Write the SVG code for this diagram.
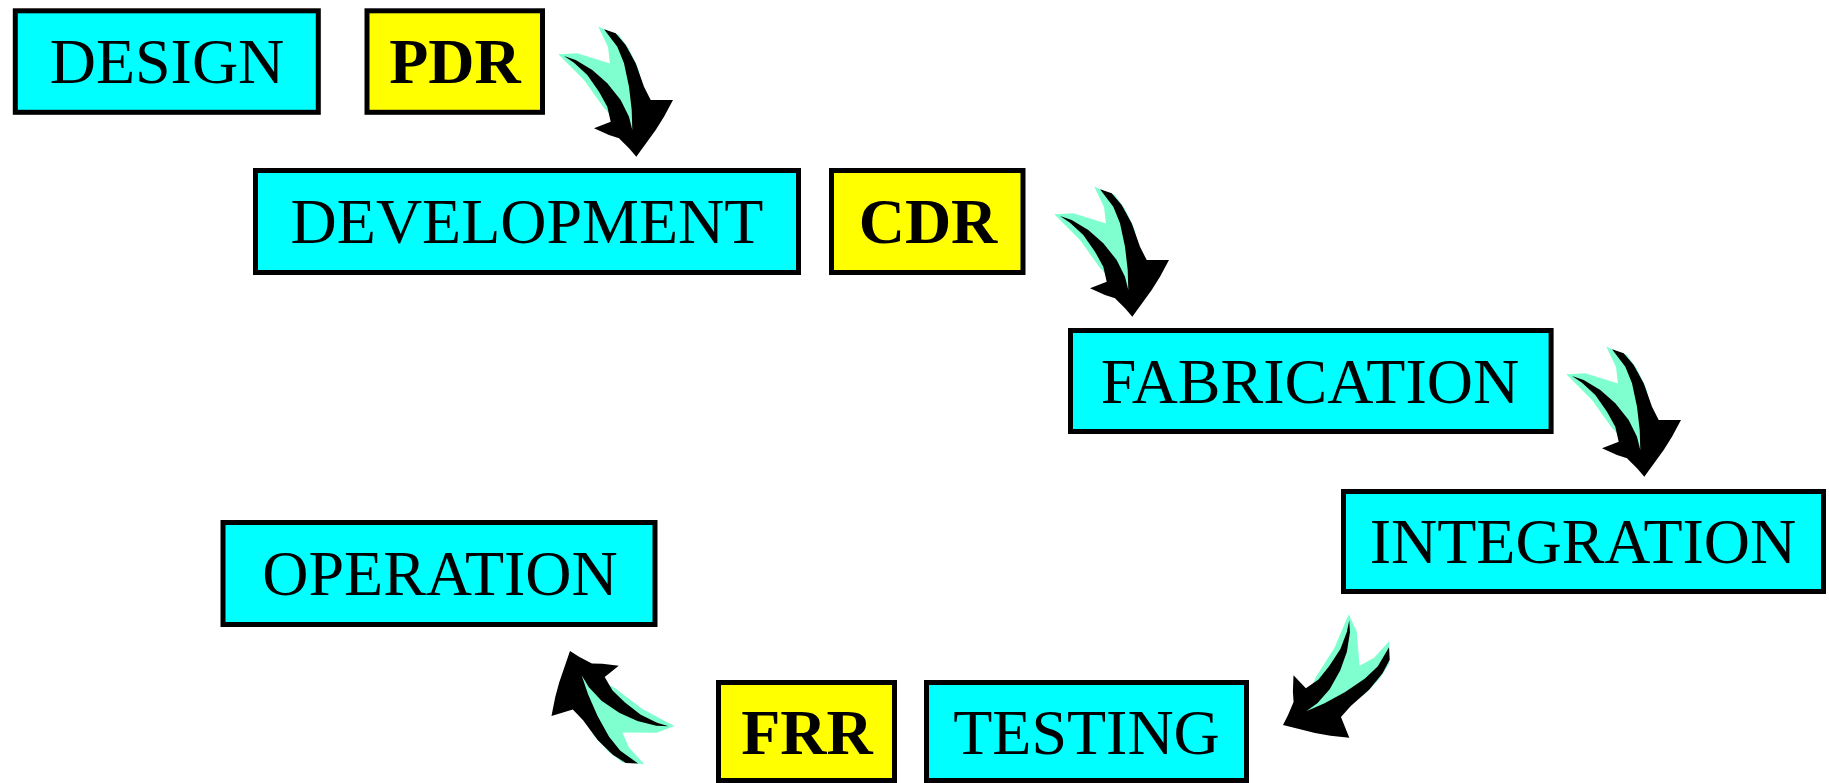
<svg xmlns="http://www.w3.org/2000/svg" xmlns:xlink="http://www.w3.org/1999/xlink" width="1829" height="783" viewBox="0 0 1829 783">
<style>
.box{stroke:#000;stroke-width:5}
.phase{fill:#00FFFF}
.review{fill:#FFFF00}
.lbl{font-family:"Liberation Serif","Times New Roman",serif;font-size:64px;fill:#000;text-anchor:middle}
.bold{font-weight:bold}
.shadow{fill:#7FFFD0}
.arrow{fill:#000}
</style>
<defs>
<g id="curvedArrow">
<polygon class="shadow" points="1054.3,214.3 1073.3,213.3 1106,223.5 1104,207 1094.3,186.7 1115,195 1125,209 1134,228 1140,250 1130,300 1100,268 1080,240 1062,222"/>
<polygon class="arrow" points="1100,189.3 1111.7,193.3 1121.7,205 1131.7,223.3 1140,246.7 1146.7,260 1169,260 1160,276.7 1151.7,290 1132.3,316.7 1125,308.3 1115,298.3 1105,295 1090,288.3 1106.7,281.7 1103.3,266.7 1095,251.7 1083.3,235 1070,222.7 1060,216 1071.7,220 1088.3,230 1103.3,243.3 1116.7,260 1125,276.7 1128.3,290 1127.7,270 1125,246.7 1120,223.3 1113.3,206.7"/>
</g>
</defs>
<rect width="1829" height="783" fill="#fff"/>
<g id="connectors">
<use xlink:href="#curvedArrow" transform="translate(-496,-160)"/>
<use xlink:href="#curvedArrow"/>
<use xlink:href="#curvedArrow" transform="translate(512,160)"/>
<use xlink:href="#curvedArrow" transform="translate(1283,725) rotate(68) translate(-1132.3,-316.7)"/>
<use xlink:href="#curvedArrow" transform="translate(570,651) rotate(163) translate(-1132.3,-316.7)"/>
</g>
<g id="design">
<rect class="box phase" x="15.3" y="10.8" width="303" height="101.5"/>
<text class="lbl" x="167" y="83">DESIGN</text>
</g>
<g id="pdr">
<rect class="box review" x="367" y="10.8" width="175.5" height="101.5"/>
<text class="lbl bold" x="455" y="83">PDR</text>
</g>
<g id="development">
<rect class="box phase" x="255.5" y="170.5" width="543" height="102"/>
<text class="lbl" x="527" y="243">DEVELOPMENT</text>
</g>
<g id="cdr">
<rect class="box review" x="831.5" y="170.5" width="191.5" height="102"/>
<text class="lbl bold" x="928" y="243">CDR</text>
</g>
<g id="fabrication">
<rect class="box phase" x="1070.5" y="330.5" width="480.6" height="101"/>
<text class="lbl" x="1310" y="402.5">FABRICATION</text>
</g>
<g id="integration">
<rect class="box phase" x="1343.5" y="491.5" width="480" height="100"/>
<text class="lbl" x="1583" y="563">INTEGRATION</text>
</g>
<g id="operation">
<rect class="box phase" x="223" y="522.5" width="432" height="102"/>
<text class="lbl" x="440" y="595">OPERATION</text>
</g>
<g id="frr">
<rect class="box review" x="718.5" y="682.5" width="176" height="98"/>
<text class="lbl bold" x="807" y="754">FRR</text>
</g>
<g id="testing">
<rect class="box phase" x="926.5" y="682.5" width="320" height="98"/>
<text class="lbl" x="1086.5" y="754">TESTING</text>
</g>
</svg>
